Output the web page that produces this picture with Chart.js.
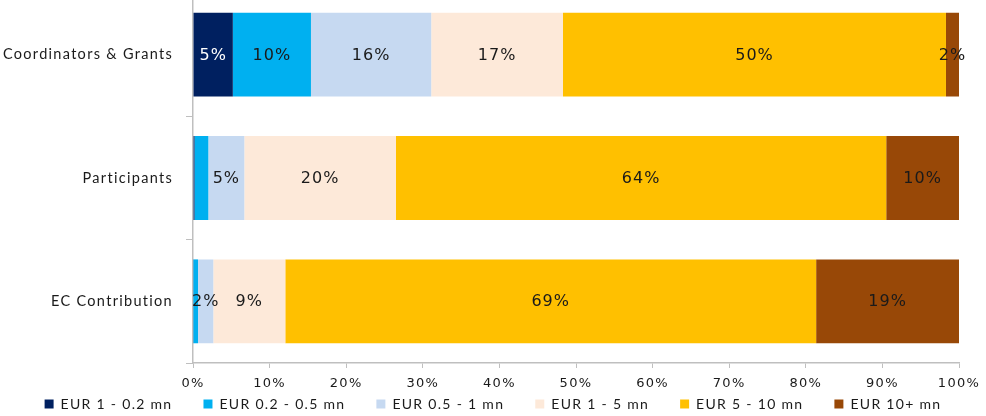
<!DOCTYPE html>
<html>
<head>
<meta charset="utf-8">
<script src="https://cdn.jsdelivr.net/npm/chart.js@4"></script>
<style>
html,body{margin:0;padding:0;background:#fff;overflow:hidden;}
#wrap{position:absolute;left:0;top:-7px;width:986px;height:429px;}
</style>
</head>
<body>
<div id="wrap"><canvas id="c" width="986" height="429"></canvas></div>
<script>
const categories = ["Coordinators & Grants", "Participants", "EC Contribution"];
const seriesNames = ["EUR 1 - 0.2 mn", "EUR 0.2 - 0.5 mn", "EUR 0.5 - 1 mn", "EUR 1 - 5 mn", "EUR 5 - 10 mn", "EUR 10+ mn"];
const eur1to02   = [5.2, 0.2, 0.05];
const eur02to05  = [10.2, 1.8, 0.6];
const eur05to1   = [15.7, 4.7, 2.0];
const eur1to5    = [17.2, 19.8, 9.4];
const eur5to10   = [50.0, 64.0, 69.3];
const eur10plus  = [1.7, 9.5, 18.65];
const xTicks = [0,10,20,30,40,50,60,70,80,90,100];
// labels not shown in the reference: [series, category]
const hiddenLabels = [[0,1],[1,1],[0,2],[1,2]];

const seriesValues = [eur1to02, eur02to05, eur05to1, eur1to5, eur5to10, eur10plus];
const colors = ["#002060", "#00B0F0", "#C6D9F1", "#FDE9D9", "#FFC000", "#984807"];
const labelColors = ["#ffffff", "#1a1a1a", "#1a1a1a", "#1a1a1a", "#1a1a1a", "#1a1a1a"];

const datasets = seriesNames.map((n, i) => ({
  label: n,
  data: seriesValues[i],
  backgroundColor: colors[i],
  borderWidth: 0,
  barPercentage: 0.68,
  categoryPercentage: 1.0
}));

const SPACING = '1.3px';

const layoutTweaks = {
  id: 'layoutTweaks',
  beforeUpdate(chart) { chart.ctx.letterSpacing = SPACING; },
  beforeLayout(chart) {
    chart.ctx.letterSpacing = SPACING;
    const lg = chart.legend;
    if (lg && !lg._patched) {
      const f = lg.fit.bind(lg);
      lg.fit = function () { this.maxWidth = chart.width; f(); this.height = 29; };
      lg._patched = true;
    }
  },
  afterLayout(chart) {
    const lg = chart.legend;
    if (lg) {
      lg.left = 0;
      lg.right = chart.width;
      lg.width = chart.width;
      lg.top = chart.chartArea.bottom + 3;
      lg.bottom = chart.height;
      lg.height = lg.bottom - lg.top;
    }
  },
  beforeDraw(chart) { chart.ctx.letterSpacing = SPACING; }
};

const barLabels = {
  id: 'barLabels',
  afterDatasetsDraw(chart) {
    const ctx = chart.ctx;
    ctx.save();
    ctx.letterSpacing = '1px';
    ctx.font = '16px "DejaVu Sans"';
    ctx.textAlign = 'center';
    ctx.textBaseline = 'middle';
    chart.data.datasets.forEach((ds, si) => {
      const meta = chart.getDatasetMeta(si);
      meta.data.forEach((bar, ci) => {
        if (hiddenLabels.some(h => h[0] === si && h[1] === ci)) return;
        const v = ds.data[ci];
        const cx = (bar.x + bar.base) / 2;
        ctx.fillStyle = labelColors[si];
        ctx.fillText(Math.round(v) + '%', cx, bar.y + 1);
      });
    });
    ctx.restore();
  }
};

new Chart(document.getElementById('c'), {
  type: 'bar',
  data: { labels: categories, datasets: datasets },
  options: {
    indexAxis: 'y',
    responsive: false,
    animation: false,
    layout: { padding: { left: 0, right: 27, top: 0, bottom: 0 } },
    plugins: {
      tooltip: { enabled: false },
      legend: {
        position: 'bottom',
        labels: {
          boxWidth: 9, boxHeight: 9, padding: 31,
          color: '#1a1a1a',
          font: { family: 'Lato', size: 14 }
        }
      }
    },
    scales: {
      x: {
        stacked: true,
        min: 0, max: 100,
        afterBuildTicks(scale) { scale.ticks = xTicks.map(v => ({ value: v })); },
        afterFit(scale) { scale.height = 30; },
        grid: { drawOnChartArea: false, drawTicks: true, tickLength: 5, color: '#bfbfbf' },
        border: { display: true, color: '#bfbfbf', width: 1.5 },
        ticks: {
          padding: 5,
          color: '#1a1a1a',
          font: { family: 'DejaVu Sans', size: 13, lineHeight: 1.6 },
          callback: v => v + '%'
        }
      },
      y: {
        stacked: true,
        afterFit(scale) { scale.width = 193; scale.paddingTop = 0; scale.paddingBottom = 0; },
        grid: { offset: true, drawOnChartArea: false, drawTicks: true, tickLength: 7, color: '#bfbfbf' },
        border: { display: true, color: '#bfbfbf', width: 1.5 },
        ticks: {
          padding: 13,
          color: '#1a1a1a',
          font: { family: 'Lato', size: 14.5 }
        }
      }
    }
  },
  plugins: [layoutTweaks, barLabels]
});
</script>
</body>
</html>
